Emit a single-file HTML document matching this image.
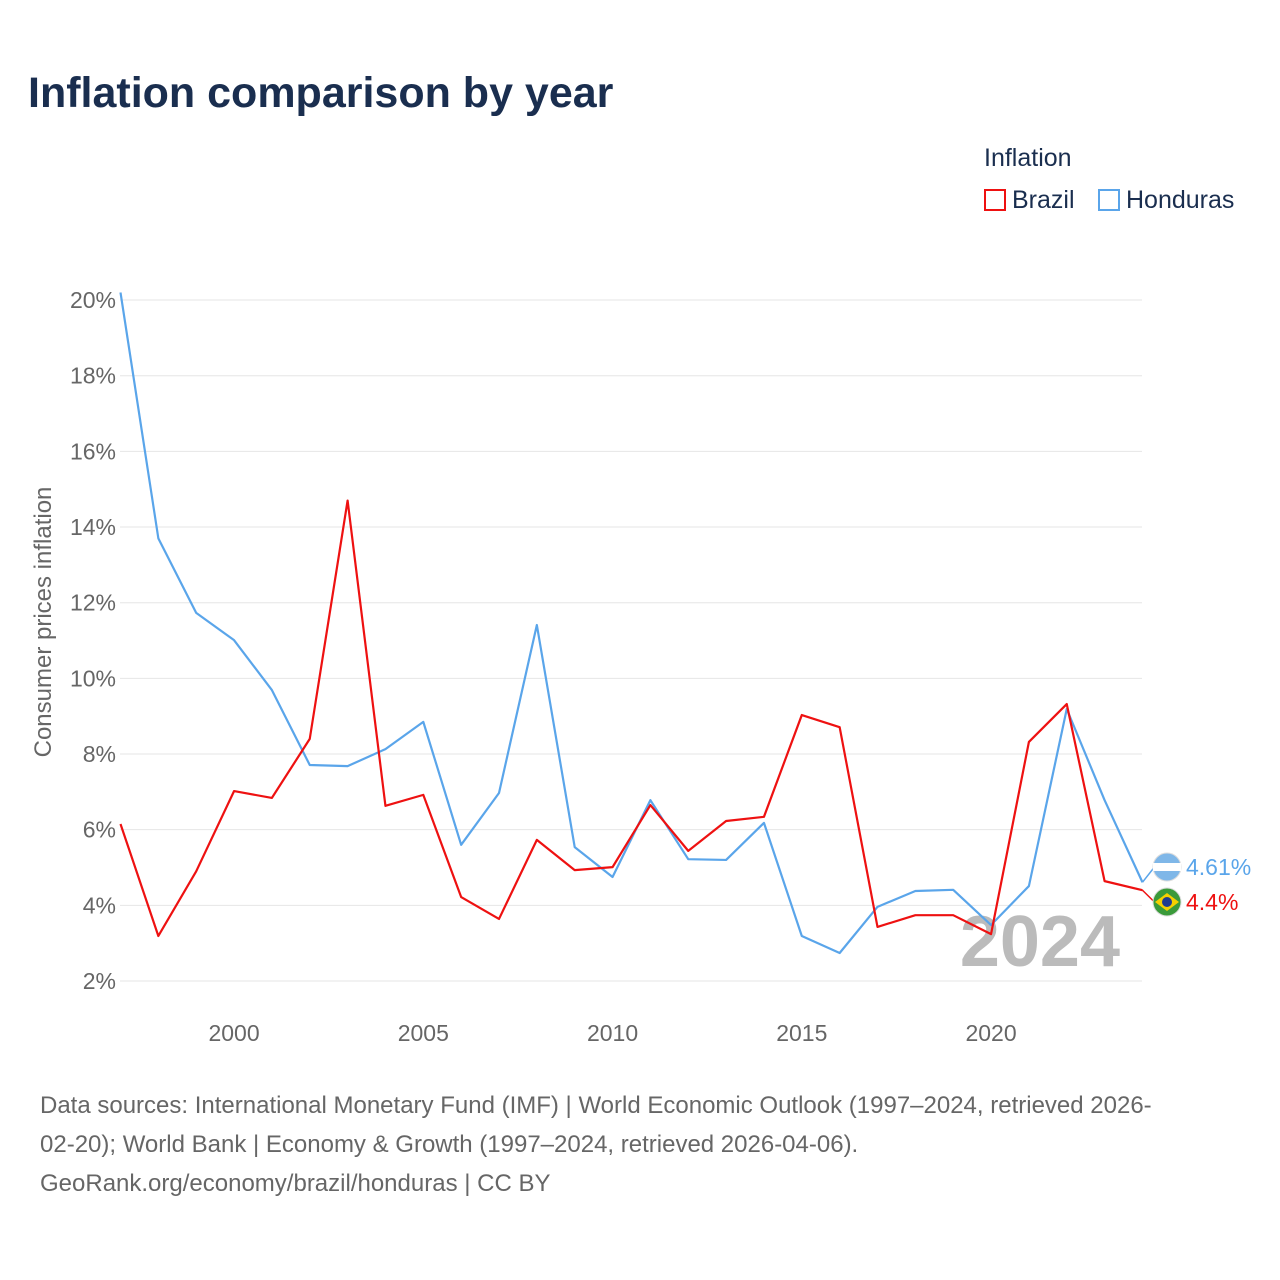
<!DOCTYPE html>
<html><head><meta charset="utf-8">
<style>
body{margin:0;background:#fff;font-family:"Liberation Sans",sans-serif;}
#wrap{position:relative;width:1280px;height:1280px;overflow:hidden;}
.t{position:absolute;white-space:nowrap;}
</style></head>
<body>
<div id="wrap">
<div class="t" style="left:28px;top:69px;font-size:43px;font-weight:bold;color:#1a2e4f;">Inflation comparison by year</div>
<div class="t" style="left:984px;top:144px;font-size:25px;color:#1a2e4f;">Inflation</div>
<div class="t" style="left:984px;top:186px;font-size:25px;color:#1a2e4f;"><span style="display:inline-block;width:22px;height:22px;border:2px solid #ee1111;box-sizing:border-box;vertical-align:-3px;margin-right:6px;"></span>Brazil</div>
<div class="t" style="left:1098px;top:186px;font-size:25px;color:#1a2e4f;"><span style="display:inline-block;width:22px;height:22px;border:2px solid #5aa5ea;box-sizing:border-box;vertical-align:-3px;margin-right:6px;"></span>Honduras</div>
<div class="t" style="left:40px;top:1086px;font-size:24px;line-height:39px;color:#666;">Data sources: International Monetary Fund (IMF) | World Economic Outlook (1997–2024, retrieved 2026-<br>02-20); World Bank | Economy &amp; Growth (1997–2024, retrieved 2026-04-06).<br>GeoRank.org/economy/brazil/honduras | CC BY</div>
<svg id="chart" width="1280" height="1280" style="position:absolute;left:0;top:0"></svg>
</div>
<script>
const years=[1997,1998,1999,2000,2001,2002,2003,2004,2005,2006,2007,2008,2009,2010,2011,2012,2013,2014,2015,2016,2017,2018,2019,2020,2021,2022,2023,2024];
const brazil=[6.15,3.19,4.9,7.02,6.84,8.4,14.7,6.63,6.92,4.22,3.64,5.73,4.93,5.01,6.65,5.44,6.23,6.34,9.03,8.71,3.43,3.74,3.74,3.24,8.32,9.32,4.64,4.4];
const honduras=[20.2,13.7,11.73,11.01,9.69,7.71,7.68,8.13,8.85,5.6,6.97,11.41,5.54,4.75,6.78,5.22,5.2,6.18,3.19,2.74,3.96,4.38,4.41,3.48,4.51,9.19,6.78,4.61];
const yTicks=[2,4,6,8,10,12,14,16,18,20];
const xTicks=[2000,2005,2010,2015,2020];
const NS="http://www.w3.org/2000/svg";
const svg=document.getElementById('chart');
const X=y=>120.5+(y-1997)*37.85;
const Y=v=>981-(v-2)*37.83;
function mk(t,a,txt){const e=document.createElementNS(NS,t);for(const k in a)e.setAttribute(k,a[k]);if(txt!==undefined)e.textContent=txt;svg.appendChild(e);return e;}
yTicks.forEach(v=>{
 const l=mk('line',{x1:120,x2:1142,y1:Y(v),y2:Y(v),stroke:'#e6e6e6','stroke-width':1});
 
 
 const t=mk('text',{x:116,y:Y(v)+8,'text-anchor':'end','font-size':23,fill:'#666','font-family':'Liberation Sans, sans-serif'},v+'%');
 
 
});
xTicks.forEach(v=>{
 const t=mk('text',{x:X(v),y:1041,'text-anchor':'middle','font-size':23,fill:'#666','font-family':'Liberation Sans, sans-serif'},v);
 
 
});
const yt=mk('text',{x:0,y:0,transform:'translate(51,622) rotate(-90)','text-anchor':'middle','font-size':24,fill:'#666','font-family':'Liberation Sans, sans-serif'},'Consumer prices inflation');


const yr=mk('text',{x:1120,y:966,'text-anchor':'end','font-size':72,'font-weight':'bold',fill:'#bbb','font-family':'Liberation Sans, sans-serif'},'2024');


function line(vals,col,name){
 const p=mk('polyline',{points:vals.map((v,i)=>X(years[i])+','+Y(v)).join(' '),fill:'none',stroke:col,'stroke-width':2.2,'stroke-linejoin':'round'});
 
 
}
line(honduras,'#5aa5ea','honduras-line');
line(brazil,'#ee1111','brazil-line');
function endLabel(v,col,ly,txt,name,flagFill){
 const lx=X(years[years.length-1]);
 mk('polyline',{points:`${lx},${Y(v)} ${lx+12},${ly} ${lx+14},${ly}`,fill:'none',stroke:col,'stroke-width':1.5});
 const c=mk('circle',{cx:1167,cy:ly,r:14,fill:flagFill,stroke:'#ddd'});
 
 
 const t=mk('text',{x:1186,y:ly+8,'font-size':23,fill:col,'font-family':'Liberation Sans, sans-serif'},txt);
 
 
}
endLabel(honduras[27],'#5aa5ea',867,honduras[27]+'%','honduras','#7fb7e8');
endLabel(brazil[27],'#ee1111',902,brazil[27]+'%','brazil','#3a9a3a');
mk('rect',{x:1153,y:863,width:28,height:8,fill:'#fff'});
mk('polygon',{points:'1167,893 1179,902 1167,911 1155,902',fill:'#f5d000'});
mk('circle',{cx:1167,cy:902,r:5,fill:'#1f3c8f'});
</script>
</body></html>
